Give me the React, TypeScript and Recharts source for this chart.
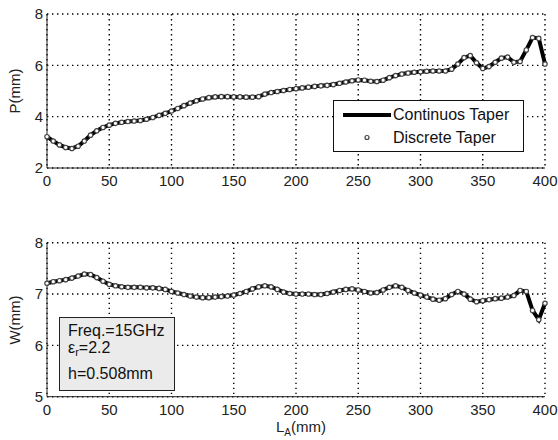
import React from 'react';
import { ComposedChart, Line, XAxis, YAxis, CartesianGrid } from 'recharts';

// L_A sample positions (mm)
const LA = [
  0, 5, 10, 15, 20, 25, 30, 35, 40, 45, 50, 55, 60, 65, 70, 75, 80, 85, 90, 95,
  100, 105, 110, 115, 120, 125, 130, 135, 140, 145, 150, 155, 160, 165, 170, 175, 180, 185, 190, 195,
  200, 205, 210, 215, 220, 225, 230, 235, 240, 245, 250, 255, 260, 265, 270, 275, 280, 285, 290, 295,
  300, 305, 310, 315, 320, 325, 330, 335, 340, 345, 350, 355, 360, 365, 370, 375, 380, 385, 390, 395, 400,
];

// P(mm)
const P = [
  3.22, 3.05, 2.9, 2.8, 2.76, 2.85, 3.05, 3.28, 3.45, 3.58, 3.67, 3.74, 3.78, 3.81, 3.83, 3.85, 3.9, 3.97, 4.05, 4.13,
  4.22, 4.32, 4.43, 4.53, 4.62, 4.69, 4.74, 4.77, 4.78, 4.78, 4.77, 4.77, 4.76, 4.76, 4.78, 4.88, 4.94, 4.98, 5.02, 5.06,
  5.09, 5.12, 5.15, 5.18, 5.2, 5.22, 5.25, 5.3, 5.35, 5.4, 5.43, 5.42, 5.38, 5.37, 5.42, 5.52, 5.6, 5.66, 5.7, 5.73,
  5.75, 5.77, 5.78, 5.78, 5.78, 5.85, 6.05, 6.3, 6.38, 6.1, 5.88, 5.95, 6.12, 6.28, 6.32, 6.12, 6.15, 6.6, 7.08, 7.05, 6.05,
];

// W(mm)
const W = [
  7.21, 7.24, 7.26, 7.28, 7.31, 7.35, 7.39, 7.38, 7.32, 7.25, 7.19, 7.16, 7.14, 7.13, 7.13, 7.13, 7.12, 7.12, 7.11, 7.09,
  7.05, 7.02, 6.99, 6.96, 6.94, 6.93, 6.93, 6.94, 6.95, 6.96, 6.98, 7.01, 7.05, 7.1, 7.14, 7.16, 7.14, 7.09, 7.04, 7.01,
  7.0, 7.0, 7.0, 6.99, 6.99, 7.01, 7.04, 7.07, 7.09, 7.1, 7.08, 7.05, 7.02, 7.03, 7.08, 7.13, 7.16, 7.13, 7.07, 7.02,
  6.98, 6.94, 6.9, 6.88, 6.91, 6.99, 7.05, 7.0, 6.9, 6.85, 6.87, 6.89, 6.91, 6.92, 6.94, 6.97, 7.07, 7.05, 6.68, 6.5, 6.82,
];

const X_TICKS = [0, 50, 100, 150, 200, 250, 300, 350, 400];
const X_DOMAIN = [0, 400];
const P_TICKS = [2, 4, 6, 8];
const P_DOMAIN = [2, 8];
const W_TICKS = [5, 6, 7, 8];
const W_DOMAIN = [5, 8];

const FONT = '"Liberation Sans", Arial, Helvetica, sans-serif';
const INK = '#222';

const topRows = LA.map((l, i) => ({ L: l, cont: P[i], disc: P[i] }));
const botRows = LA.map((l, i) => ({ L: l, cont: W[i], disc: W[i] }));

const xTick = (props: any) => (
  <text x={props.x} y={props.y} dy="0.71em" textAnchor="middle" fontSize={15} fill={INK} fontFamily={FONT}>
    {props.payload.value}
  </text>
);

const yTick = (props: any) => (
  <text x={props.x} y={props.y} dy="0.36em" textAnchor="end" fontSize={15} fill={INK} fontFamily={FONT}>
    {props.payload.value}
  </text>
);

const DOT_STYLE = { r: 2.2, fill: '#fff', stroke: '#444', strokeWidth: 1.2 };

function Panel({ rows, yDomain, yTicks, height, top, xHeight, xGap }: any) {
  return (
    <ComposedChart width={558} height={height} data={rows} margin={{ top, right: 13, bottom: 0, left: 0 }}>
      <CartesianGrid stroke="#000" strokeWidth={1.4} strokeDasharray="1.4 3.6" />
      <XAxis
        dataKey="L"
        type="number"
        domain={X_DOMAIN}
        ticks={X_TICKS}
        height={xHeight}
        tickSize={0}
        tickLine={false}
        tickMargin={xGap}
        axisLine={{ stroke: INK }}
        tick={xTick}
        interval={0}
      />
      <XAxis xAxisId="top" orientation="top" type="number" domain={X_DOMAIN} height={0} tick={false} tickLine={false} axisLine={{ stroke: INK }} />
      <YAxis
        type="number"
        domain={yDomain}
        ticks={yTicks}
        width={47}
        tickSize={0}
        tickLine={false}
        tickMargin={4}
        axisLine={{ stroke: INK }}
        tick={yTick}
        interval={0}
      />
      <YAxis yAxisId="right" orientation="right" type="number" domain={yDomain} width={0} tick={false} tickLine={false} axisLine={{ stroke: INK }} />
      <Line dataKey="cont" name="Continuos Taper" stroke="#000" strokeWidth={4} dot={false} isAnimationActive={false} />
      <Line dataKey="disc" name="Discrete Taper" stroke="none" dot={DOT_STYLE} isAnimationActive={false} />
    </ComposedChart>
  );
}

export default function App() {
  return (
    <div style={{ position: 'absolute', left: 0, top: 0, width: 558, height: 440, background: '#fff', fontFamily: FONT }}>
      <div style={{ position: 'absolute', left: 0, top: 0 }}>
        <Panel rows={topRows} yDomain={P_DOMAIN} yTicks={P_TICKS} height={200} top={14} xHeight={32} xGap={7} />
      </div>
      <div style={{ position: 'absolute', left: 0, top: 220 }}>
        <Panel rows={botRows} yDomain={W_DOMAIN} yTicks={W_TICKS} height={220} top={22.7} xHeight={43.3} xGap={8} />
      </div>

      {/* legend */}
      <div
        style={{
          position: 'absolute',
          left: 333,
          top: 100,
          width: 189,
          height: 50,
          border: '1px solid #111',
          background: '#fff',
          fontSize: 16,
          color: '#111',
          lineHeight: 1,
        }}
      >
        <svg width={60} height={50} style={{ position: 'absolute', left: 0, top: 0 }}>
          <line x1={9} x2={57} y1={14} y2={14} stroke="#000" strokeWidth={4} />
          <circle cx={33} cy={36.5} r={2} fill="#fff" stroke="#444" strokeWidth={1.2} />
        </svg>
        <div style={{ position: 'absolute', left: 59, top: 6, whiteSpace: 'nowrap' }}>Continuos Taper</div>
        <div style={{ position: 'absolute', left: 59, top: 29, whiteSpace: 'nowrap' }}>Discrete Taper</div>
      </div>

      {/* axis titles */}
      <div style={{ position: 'absolute', left: 14, top: 91, fontSize: 15, color: INK, transform: 'translate(-50%, -50%) rotate(-90deg)', whiteSpace: 'nowrap' }}>
        P(mm)
      </div>
      <div style={{ position: 'absolute', left: 14, top: 320, fontSize: 15, color: INK, transform: 'translate(-50%, -50%) rotate(-90deg)', whiteSpace: 'nowrap' }}>
        W(mm)
      </div>
      <div style={{ position: 'absolute', left: 276, top: 419, fontSize: 15, color: INK, whiteSpace: 'nowrap', lineHeight: 1 }}>
        L<sub style={{ fontSize: 10 }}>A</sub>(mm)
      </div>

      {/* annotation box */}
      <div
        style={{
          position: 'absolute',
          left: 59,
          top: 317,
          width: 114,
          height: 72,
          background: '#ebebeb',
          border: '1px solid #222',
          fontSize: 16,
          color: '#111',
          lineHeight: 1,
        }}
      >
        <div style={{ position: 'absolute', left: 8, top: 5, whiteSpace: 'nowrap' }}>Freq.=15GHz</div>
        <div style={{ position: 'absolute', left: 8, top: 22, whiteSpace: 'nowrap' }}>
          ε<sub style={{ fontSize: 11, verticalAlign: '-3px', lineHeight: 1 }}>r</sub>=2.2
        </div>
        <div style={{ position: 'absolute', left: 8, top: 48, whiteSpace: 'nowrap' }}>h=0.508mm</div>
      </div>
    </div>
  );
}
